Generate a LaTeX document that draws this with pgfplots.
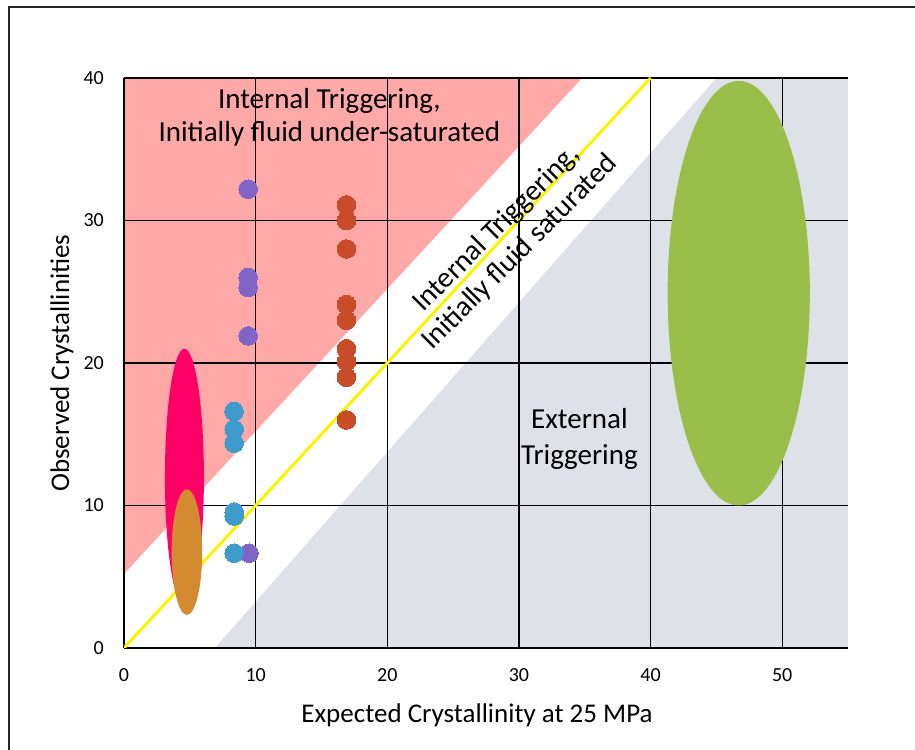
\documentclass[border=0pt]{standalone}
\usepackage{pgfplots}
\pgfplotsset{compat=1.18}
\usepackage{fontspec}
\setmainfont{Carlito}
\definecolor{pinkreg}{HTML}{FFA8A8}
\definecolor{greyreg}{HTML}{DEE2E8}
\definecolor{magell}{HTML}{FF0066}
\definecolor{orell}{HTML}{D48A30}
\definecolor{grell}{HTML}{99BF4A}
\definecolor{purp}{HTML}{8064C8}
\definecolor{bluep}{HTML}{3E9BCC}
\definecolor{redp}{HTML}{C84B2A}
\begin{document}
\begin{tikzpicture}
\begin{axis}[
  set layers,
  scale only axis,
  width=724bp, height=570bp,
  xmin=0, xmax=55, ymin=0, ymax=40,
  xtick={0,10,20,30,40,50},
  ytick={0,10,20,30,40},
  axis x line*=bottom, axis y line*=left,
  axis line style={black, line width=1.4bp, -},
  grid=major,
  major grid style={black, line width=1.3bp},
  major tick length=0pt,
  tick label style={font=\fontsize{20bp}{24bp}\selectfont, text=black},
  /pgf/number format/assume math mode=true,
  xticklabel style={inner sep=0pt, yshift=-20bp},
  yticklabel style={inner sep=0pt, xshift=-20bp},
  xlabel={Expected Crystallinity at 25 MPa},
  label style={font=\fontsize{27bp}{30bp}\selectfont},
  xlabel style={at={(axis description cs:0.5,0)}, anchor=base, inner sep=0pt, yshift=-74bp, xshift=-9bp},
  clip mode=individual,
]
% regions
\addplot[fill=pinkreg, draw=none, on layer=axis background] coordinates {(0,5.2) (34.8,40) (0,40)} -- cycle;
\addplot[fill=greyreg, draw=none, on layer=axis background] coordinates {(6.9,0) (45,40) (55,40) (55,0)} -- cycle;
% 1:1 line
\addplot[color=yellow, line width=3bp] coordinates {(0,0) (40,40)};
% ellipses
\fill[magell] (axis cs:4.59,12.0) ellipse [x radius=1.48, y radius=9.0];
\fill[orell] (axis cs:4.78,6.73) ellipse [x radius=1.16, y radius=4.41];
\fill[grell] (axis cs:46.7,24.9) ellipse [x radius=5.4, y radius=14.9];
% points
\addplot[color=purp, only marks, mark=*, mark size=9.3bp, mark options={draw=purp, fill=purp, line width=0pt}] coordinates {
 (9.43,32.2) (9.43,26.0) (9.43,25.3) (9.43,21.9) (9.5,6.65)};
\addplot[color=bluep, only marks, mark=*, mark size=9.3bp, mark options={draw=bluep, fill=bluep, line width=0pt}] coordinates {
 (8.37,16.6) (8.37,15.35) (8.37,14.37) (8.37,9.54) (8.37,9.26) (8.37,6.65)};
\addplot[color=redp, only marks, mark=*, mark size=9.3bp, mark options={draw=redp, fill=redp, line width=0pt}] coordinates {
 (16.9,31.1) (16.9,30.0) (16.9,28.0) (16.9,24.1) (16.9,23.0) (16.9,21.0) (16.9,20.1) (16.9,19.0) (16.9,16.0)};
% texts
\node[align=center, font=\fontsize{29bp}{33bp}\selectfont] at (axis cs:15.6,37.25) {Internal Triggering,\\Initially fluid under-saturated};
\node[align=center, rotate=45, font=\fontsize{29bp}{33bp}\selectfont] at (axis cs:29.2,28.6) {Internal Triggering,\\Initially fluid saturated};
\node[align=center, font=\fontsize{29bp}{36bp}\selectfont] at (axis cs:34.6,14.7) {External\\Triggering};
\node[rotate=90, inner sep=0pt, font=\fontsize{27bp}{30bp}\selectfont] at (axis description cs:-0.0856,0.5) {Observed Crystallinities};
\end{axis}
\draw[line width=2bp, black!85] (-115bp,-120bp) -- (-115bp,641bp) -- (810bp,641bp);
\pgfresetboundingbox
\path[use as bounding box] (-124bp,-102bp) rectangle (791bp,648bp);
\end{tikzpicture}
\end{document}
